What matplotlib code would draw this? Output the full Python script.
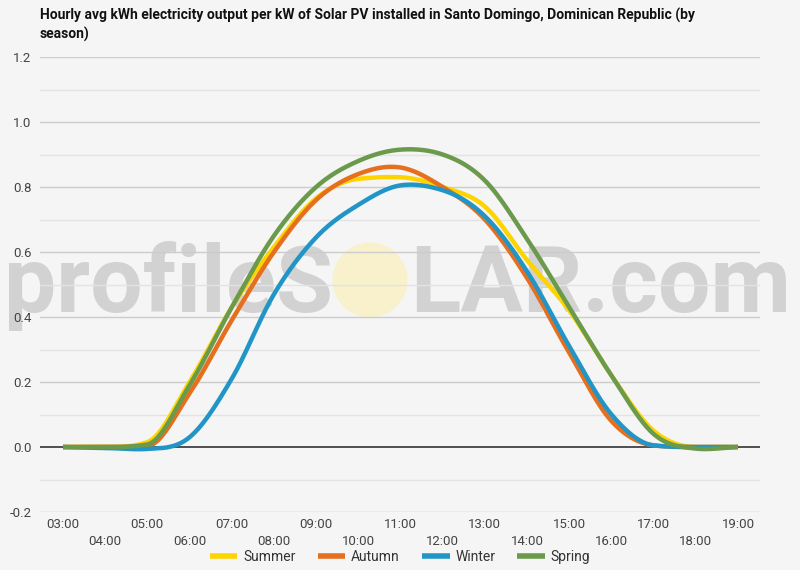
import numpy as np
import matplotlib
matplotlib.use('Agg')
import matplotlib.pyplot as plt
from matplotlib.patches import Circle

hours = list(range(3, 20))
hour_labels = [f'{h:02d}:00' for h in hours]

summer = [0, 0, 0.015, 0.20, 0.43, 0.615, 0.765, 0.825, 0.83, 0.80, 0.74, 0.575, 0.42, 0.22, 0.05, 0.0, 0]
autumn = [0, 0, 0.003, 0.165, 0.39, 0.60, 0.76, 0.84, 0.86, 0.80, 0.70, 0.52, 0.29, 0.08, 0.005, 0, 0]
winter = [0, -0.003, -0.006, 0.03, 0.21, 0.47, 0.645, 0.745, 0.805, 0.79, 0.71, 0.54, 0.31, 0.10, 0.005, 0, 0]
spring = [0, 0, 0.008, 0.19, 0.43, 0.65, 0.80, 0.88, 0.915, 0.90, 0.82, 0.64, 0.43, 0.22, 0.04, -0.005, 0]

series = {'Summer': summer, 'Autumn': autumn, 'Winter': winter, 'Spring': spring}
colors = {'Summer': '#fdd400', 'Autumn': '#e66f1e', 'Winter': '#2196c6', 'Spring': '#6b9a4c'}


def suave(x, y, n=24):
    # catmull-rom, limitando las tangentes donde se pasaria (cerca de cero)
    x = np.asarray(x, float)
    y = np.asarray(y, float)
    h = np.diff(x)
    d = np.diff(y) / h
    m = np.gradient(y, x)
    for k in range(len(d)):
        if abs(d[k]) < 1e-12:
            m[k] = m[k + 1] = 0.0
            continue
        a, b = m[k] / d[k], m[k + 1] / d[k]
        s = a * a + b * b
        if s > 9:
            tau = 3 / np.sqrt(s)
            m[k] = tau * a * d[k]
            m[k + 1] = tau * b * d[k]
    xs, ys = [], []
    for i in range(len(x) - 1):
        t = np.linspace(0, 1, n, endpoint=False)
        h00 = 2 * t**3 - 3 * t**2 + 1
        h10 = t**3 - 2 * t**2 + t
        h01 = -2 * t**3 + 3 * t**2
        h11 = t**3 - t**2
        ys.append(h00 * y[i] + h10 * h[i] * m[i] + h01 * y[i + 1] + h11 * h[i] * m[i + 1])
        xs.append(x[i] + t * h[i])
    xs.append([x[-1]])
    ys.append([y[-1]])
    return np.concatenate(xs), np.concatenate(ys)


plt.rcParams['font.family'] = ['Roboto', 'DejaVu Sans']
bg = '#f5f5f5'

fig = plt.figure(figsize=(8, 5.7), dpi=100, facecolor=bg)
ax = fig.add_axes([0.05, 1 - 512 / 570, 0.9, (512 - 57) / 570])
ax.set_facecolor(bg)

ax.set_ylim(-0.2, 1.2)
ax.set_xlim(3 - 23 / 42.19, 19 + 22 / 42.19)

for v in np.arange(-0.1, 1.2, 0.2):
    ax.axhline(v, color='#e3e3e3', lw=1, zorder=0)
for v in np.arange(-0.2, 1.21, 0.2):
    if abs(v) > 1e-9:
        ax.axhline(v, color='#cccccc', lw=1, zorder=0)
ax.axhline(0, color='#333333', lw=1.2, zorder=1)

for nombre, valores in series.items():
    xs, ys = suave(hours, valores)
    ax.plot(xs, ys, color=colors[nombre], lw=3.2, label=nombre, zorder=3,
            solid_capstyle='butt')

ax.set_yticks(np.arange(-0.2, 1.21, 0.2))
ax.set_yticklabels([f'{v:.1f}' for v in np.arange(-0.2, 1.21, 0.2)])
ax.set_xticks(hours)
ax.set_xticklabels([lab if h % 2 else '\n' + lab for h, lab in zip(hours, hour_labels)],
                   linespacing=1.45)
ax.tick_params(length=0, labelsize=9.5, colors='#444444')
ax.tick_params(axis='x', pad=4)
ax.tick_params(axis='y', pad=6)
for s in ax.spines.values():
    s.set_visible(False)

# marca de agua (debajo de las lineas)
fig.text(333 / 800, 1 - 312 / 570, 'profileS', ha='right', va='baseline',
         fontsize=67, fontweight='bold', color='#b0b0b0', alpha=0.5, zorder=0.5)
fig.text(410 / 800, 1 - 312 / 570, 'LAR.com', ha='left', va='baseline',
         fontsize=67, fontweight='bold', color='#b0b0b0', alpha=0.5, zorder=0.5)
circ = Circle((370, 570 - 280), 37.5, transform=None,
              facecolor='#fbefb0', edgecolor='none', alpha=0.6, zorder=0.5)
fig.patches.append(circ)
ax.set_zorder(1)
ax.patch.set_alpha(0)
fig.text(40 / 800, 1 - 8 / 570,
         'Hourly avg kWh electricity output per kW of Solar PV installed in Santo Domingo, Dominican Republic (by\nseason)',
         ha='left', va='top', fontsize=10, fontweight='bold', color='#111111',
         linespacing=1.35)

leg = fig.legend(loc='center', bbox_to_anchor=(0.5, 1 - 557 / 570), ncol=4,
                 frameon=False, fontsize=10, handlelength=2.0, handletextpad=0.4,
                 columnspacing=1.6, labelcolor='#333333')
for ln in leg.get_lines():
    ln.set_linewidth(4)

fig.savefig('out.png', dpi=100, facecolor=bg)
